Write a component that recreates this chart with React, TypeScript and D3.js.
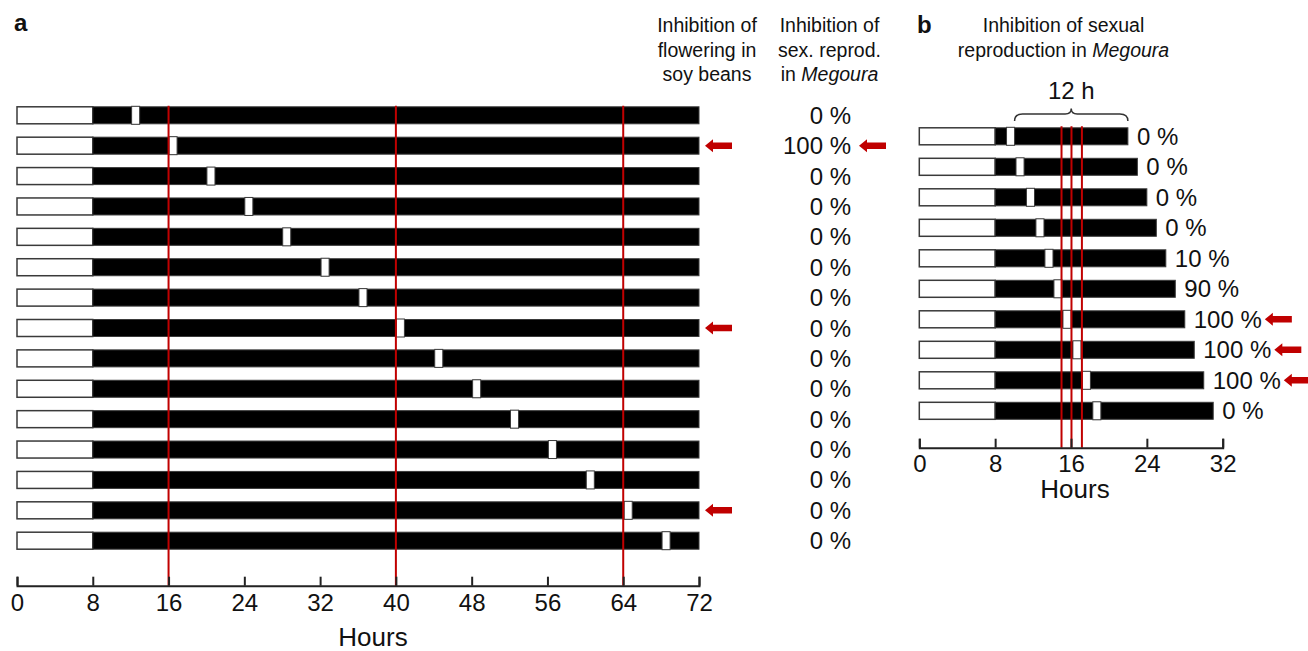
import React, { useEffect, useRef } from "react";
import * as d3 from "d3";

// panel a: 8 h light, dark until 72 h, short light break moved along the night
const lightEndA = 8;
const darkEndA = 72;
const pulseStartsA = [12.1, 16.05, 20.05, 24.05, 28.05, 32.1, 36.1, 40.05, 44.1, 48.1, 52.1, 56.1, 60.1, 64.1, 68.1];
const inhibitionA = ["0 %", "100 %", "0 %", "0 %", "0 %", "0 %", "0 %", "0 %", "0 %", "0 %", "0 %", "0 %", "0 %", "0 %", "0 %"];
const soyArrowRows = [1, 7, 13];
const megouraArrowRowsA = [1];
const redLinesA = [16, 40, 64];
const ticksA = [0, 8, 16, 24, 32, 40, 48, 56, 64, 72];

// panel b: 8 h light, dark period of 14..23 h, break 12 h before the end
const lightEndB = 8;
const darkEndsB = [22, 23, 24, 25, 26, 27, 28, 29, 30, 31];
const pulseStartsB = [9.2, 10.2, 11.3, 12.3, 13.25, 14.2, 15.15, 16.2, 17.2, 18.3];
const inhibitionB = ["0 %", "0 %", "0 %", "0 %", "10 %", "90 %", "100 %", "100 %", "100 %", "0 %"];
const arrowRowsB = [6, 7, 8];
const redLinesB = [15, 16.05, 17.15];
const ticksB = [0, 8, 16, 24, 32];

const pulseWidth = 0.85;
const barH = 17;
const red = "#c00000";
const edge = "#3a3a3a";
const font = "'Liberation Sans', Arial, sans-serif";

const xA = d3.scaleLinear().domain([0, 72]).range([17, 699]);
const yA = d3.scalePoint<number>().domain(d3.range(pulseStartsA.length)).range([115.3, 540.7]);
const xB = d3.scaleLinear().domain([0, 32]).range([919.3, 1222.7]);
const yB = d3.scalePoint<number>().domain(d3.range(darkEndsB.length)).range([136.3, 410.8]);

const axisYA = 585.7;
const axisYB = 447.7;

function arrow(x0: number, y: number) {
  return `M${x0},${y} L${x0 + 8},${y - 6.5} L${x0 + 8},${y - 3.3} L${x0 + 27},${y - 3.3} L${x0 + 27},${y + 3.3} L${x0 + 8},${y + 3.3} L${x0 + 8},${y + 6.5} Z`;
}

export default function App() {
  const ref = useRef<SVGSVGElement>(null);

  useEffect(() => {
    const svg = d3.select(ref.current);
    svg.selectAll("*").remove();
    svg.attr("font-family", font);

    // ---------- panel a ----------
    const a = svg.append("g");
    const rowsA = a.selectAll("g.row").data(pulseStartsA).join("g").attr("class", "row");
    rowsA.append("rect")
      .attr("x", xA(0)).attr("y", (d, i) => yA(i)! - barH / 2)
      .attr("width", xA(lightEndA) - xA(0)).attr("height", barH)
      .attr("fill", "white").attr("stroke", edge).attr("stroke-width", 1.5);
    rowsA.append("rect")
      .attr("x", xA(lightEndA)).attr("y", (d, i) => yA(i)! - barH / 2)
      .attr("width", xA(darkEndA) - xA(lightEndA)).attr("height", barH)
      .attr("fill", "black").attr("stroke", edge).attr("stroke-width", 1);
    rowsA.append("rect")
      .attr("x", (d) => xA(d)).attr("y", (d, i) => yA(i)! - barH / 2 - 0.5)
      .attr("width", xA(pulseWidth) - xA(0)).attr("height", barH + 1)
      .attr("fill", "white").attr("stroke", edge).attr("stroke-width", 1);

    a.selectAll("line.red").data(redLinesA).join("line").attr("class", "red")
      .attr("x1", (d) => xA(d)).attr("x2", (d) => xA(d))
      .attr("y1", yA(0)! - barH / 2 - 1).attr("y2", axisYA)
      .attr("stroke", red).attr("stroke-width", 2);

    const axA = a.append("g").attr("transform", `translate(0,${axisYA})`)
      .call(d3.axisBottom(xA).tickValues(ticksA).tickSize(-9).tickPadding(8).tickFormat(d3.format("d")));
    axA.select(".domain").attr("stroke", "#222").attr("stroke-width", 2);
    axA.selectAll(".tick line").attr("stroke", "#222").attr("stroke-width", 2);
    axA.selectAll(".tick text").attr("font-size", 24).attr("fill", "#111").attr("font-family", font);

    a.selectAll("text.pct").data(inhibitionA).join("text").attr("class", "pct")
      .attr("x", 851).attr("y", (d, i) => yA(i)! + 8.5)
      .attr("text-anchor", "end").attr("font-size", 24).attr("fill", "#111").text((d) => d);

    a.selectAll("path.arr1").data(soyArrowRows).join("path").attr("class", "arr1")
      .attr("d", (d) => arrow(xA(darkEndA) + 6, yA(d)!)).attr("fill", red);
    a.selectAll("path.arr2").data(megouraArrowRowsA).join("path").attr("class", "arr2")
      .attr("d", (d) => arrow(859, yA(d)!)).attr("fill", red);

    // ---------- panel b ----------
    const b = svg.append("g");
    const rowsB = b.selectAll("g.row").data(darkEndsB).join("g").attr("class", "row");
    rowsB.append("rect")
      .attr("x", xB(0)).attr("y", (d, i) => yB(i)! - barH / 2)
      .attr("width", xB(lightEndB) - xB(0)).attr("height", barH)
      .attr("fill", "white").attr("stroke", edge).attr("stroke-width", 1.5);
    rowsB.append("rect")
      .attr("x", xB(lightEndB)).attr("y", (d, i) => yB(i)! - barH / 2)
      .attr("width", (d) => xB(d) - xB(lightEndB)).attr("height", barH)
      .attr("fill", "black").attr("stroke", edge).attr("stroke-width", 1);
    rowsB.append("rect")
      .attr("x", (d, i) => xB(pulseStartsB[i])).attr("y", (d, i) => yB(i)! - barH / 2 - 0.5)
      .attr("width", xB(pulseWidth) - xB(0)).attr("height", barH + 1)
      .attr("fill", "white").attr("stroke", edge).attr("stroke-width", 1);

    b.selectAll("line.red").data(redLinesB).join("line").attr("class", "red")
      .attr("x1", (d) => xB(d)).attr("x2", (d) => xB(d))
      .attr("y1", yB(0)! - barH / 2 - 1.5).attr("y2", axisYB)
      .attr("stroke", red).attr("stroke-width", 2);

    const axB = b.append("g").attr("transform", `translate(0,${axisYB})`)
      .call(d3.axisBottom(xB).tickValues(ticksB).tickSize(-9).tickPadding(7).tickFormat(d3.format("d")));
    axB.select(".domain").attr("stroke", "#222").attr("stroke-width", 2);
    axB.selectAll(".tick line").attr("stroke", "#222").attr("stroke-width", 2);
    axB.selectAll(".tick text").attr("font-size", 24).attr("fill", "#111").attr("font-family", font);

    const pctB = b.selectAll("text.pct").data(inhibitionB).join("text").attr("class", "pct")
      .attr("x", (d, i) => xB(darkEndsB[i]) + 9).attr("y", (d, i) => yB(i)! + 8.5)
      .attr("font-size", 24).attr("fill", "#111").text((d) => d);
    const nodes = pctB.nodes() as SVGTextElement[];
    b.selectAll("path.arr").data(arrowRowsB).join("path").attr("class", "arr")
      .attr("d", (d) => arrow(xB(darkEndsB[d]) + 9 + nodes[d].getComputedTextLength() + 3, yB(d)!))
      .attr("fill", red);

    // brace: from end of the first break to the end of the night
    const bx1 = xB(pulseStartsB[0] + pulseWidth);
    const bx2 = xB(darkEndsB[0]);
    const bm = (bx1 + bx2) / 2;
    b.append("path")
      .attr("d", `M${bx1},121 Q${bx1},114 ${bx1 + 8},114 L${bm - 6},114 Q${bm},114 ${bm},108.5 Q${bm},114 ${bm + 6},114 L${bx2 - 8},114 Q${bx2},114 ${bx2},121`)
      .attr("fill", "none").attr("stroke", "#333").attr("stroke-width", 1.5);
    b.append("text").attr("x", bm).attr("y", 98.5).attr("text-anchor", "middle")
      .attr("font-size", 24).attr("fill", "#111").text("12 h");

    // ---------- titles ----------
    const t = svg.append("g").attr("fill", "#111");
    t.append("text").attr("x", 14).attr("y", 31).attr("font-size", 24).attr("font-weight", "bold").text("a");
    t.append("text").attr("x", 917).attr("y", 33).attr("font-size", 24).attr("font-weight", "bold").text("b");

    const heads = t.append("g").attr("font-size", 19.5).attr("text-anchor", "middle");
    const lines: [number, number, string, string?][] = [
      [707, 32, "Inhibition of"],
      [707, 56.5, "flowering in"],
      [707, 81, "soy beans"],
      [829.5, 32, "Inhibition of"],
      [829.5, 56.5, "sex. reprod."],
      [829.5, 81, "in ", "Megoura"],
      [1063.5, 32, "Inhibition of sexual"],
      [1063.5, 56.5, "reproduction in ", "Megoura"],
    ];
    lines.forEach(([x, y, s, it]) => {
      const tx = heads.append("text").attr("x", x).attr("y", y);
      tx.append("tspan").text(s);
      if (it) tx.append("tspan").attr("font-style", "italic").text(it);
    });

    t.append("text").attr("x", 373).attr("y", 646).attr("font-size", 26).attr("text-anchor", "middle").text("Hours");
    t.append("text").attr("x", 1075).attr("y", 498).attr("font-size", 26).attr("text-anchor", "middle").text("Hours");
  }, []);

  return (
    <svg
      ref={ref}
      width={1308}
      height={651}
      style={{ position: "absolute", left: 0, top: 0, background: "white" }}
    />
  );
}
